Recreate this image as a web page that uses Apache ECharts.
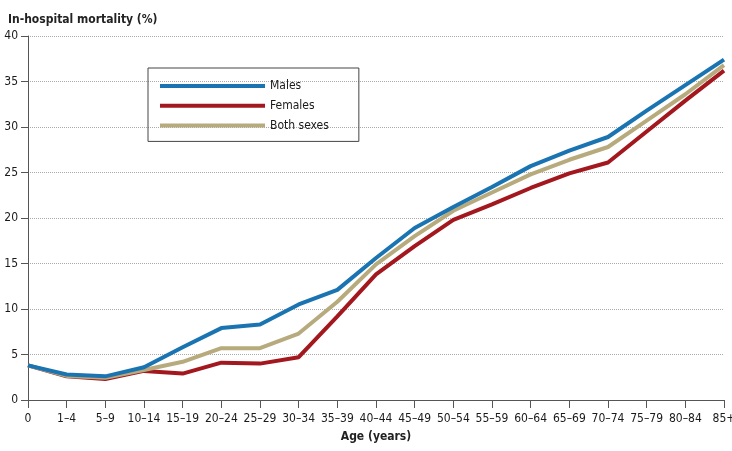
<!DOCTYPE html>
<html lang='en'>
<head>
  <meta charset='UTF-8'>
  <title>In-hospital mortality by age</title>
  <script src="https://cdn.jsdelivr.net/npm/echarts@6/dist/echarts.min.js"></script>
  <style>
    html, body { margin: 0; padding: 0; background: #fff; }
  </style>
</head>
<body>
<div id="main" style="width: 732px; height: 451px;"></div>
<script>
  const ages = ['0','1–4','5–9','10–14','15–19','20–24','25–29','30–34','35–39','40–44',
    '45–49','50–54','55–59','60–64','65–69','70–74','75–79','80–84','85+']
  const males   = [3.8, 2.8, 2.6, 3.6, 5.8, 7.9, 8.3, 10.5, 12.1, 15.6, 18.9, 21.2, 23.4, 25.7, 27.4, 28.9, 31.8, 34.6, 37.4]
  const females = [3.8, 2.6, 2.3, 3.2, 2.9, 4.1, 4.0, 4.7, 9.2, 13.8, 16.9, 19.8, 21.5, 23.3, 24.9, 26.1, 29.5, 32.9, 36.2]
  const both    = [3.8, 2.65, 2.45, 3.3, 4.2, 5.7, 5.7, 7.3, 10.8, 14.9, 18.0, 20.8, 22.8, 24.8, 26.4, 27.8, 30.7, 33.6, 36.8]

  const font = "'Liberation Sans Narrow', 'DejaVu Sans Condensed', 'Arial Narrow', sans-serif"

  const myChart = echarts.init(document.getElementById('main'))
  const line = (name, data, color) => ({
    name, type: 'line', data,
    showSymbol: false, symbol: 'none',
    lineStyle: { width: 4, color },
    itemStyle: { color },
    animation: false
  })

  myChart.setOption({
    animation: false,
    textStyle: { fontFamily: font },
    title: {
      text: 'In-hospital mortality (%)',
      left: 3, top: 9,
      textStyle: { fontFamily: font, fontSize: 12, fontWeight: 'bold', color: '#222' }
    },
    legend: {
      data: ['Males', 'Females', 'Both sexes'],
      orient: 'vertical',
      left: 148, top: 68,
      icon: 'rect',
      itemWidth: 105, itemHeight: 4, itemGap: 5.7,
      padding: [11, 30, 9, 12],
      borderColor: '#444', borderWidth: 1,
      textStyle: { fontFamily: font, fontSize: 12, color: '#1a1a1a', lineHeight: 14 }
    },
    grid: { left: 28, right: 8, top: 36, bottom: 51, containLabel: false, outerBoundsMode: 'none' },
    xAxis: {
      type: 'category',
      data: ages,
      boundaryGap: false,
      name: 'Age (years)',
      nameLocation: 'middle',
      nameGap: 31,
      nameTextStyle: { fontFamily: font, fontSize: 12, fontWeight: 'bold', color: '#222' },
      axisLine: { lineStyle: { color: '#555', width: 1 } },
      axisTick: { alignWithLabel: true, length: 8, lineStyle: { color: '#555' } },
      axisLabel: { interval: 0, margin: 13, fontSize: 12, color: '#1a1a1a', fontFamily: font },
      splitLine: { show: false }
    },
    yAxis: {
      type: 'value',
      min: 0, max: 40, interval: 5,
      axisLine: { show: true, lineStyle: { color: '#555', width: 1 } },
      axisTick: { show: true, length: 7, lineStyle: { color: '#555' } },
      axisLabel: { margin: 10, fontSize: 12, color: '#1a1a1a', fontFamily: font },
      splitLine: { lineStyle: { type: 'dotted', color: '#aaa', width: 1 } }
    },
    series: [
      line('Females', females, '#a3181e'),
      line('Both sexes', both, '#b7ab7e'),
      line('Males', males, '#1a74b1')
    ]
  })
</script>
</body>
</html>
